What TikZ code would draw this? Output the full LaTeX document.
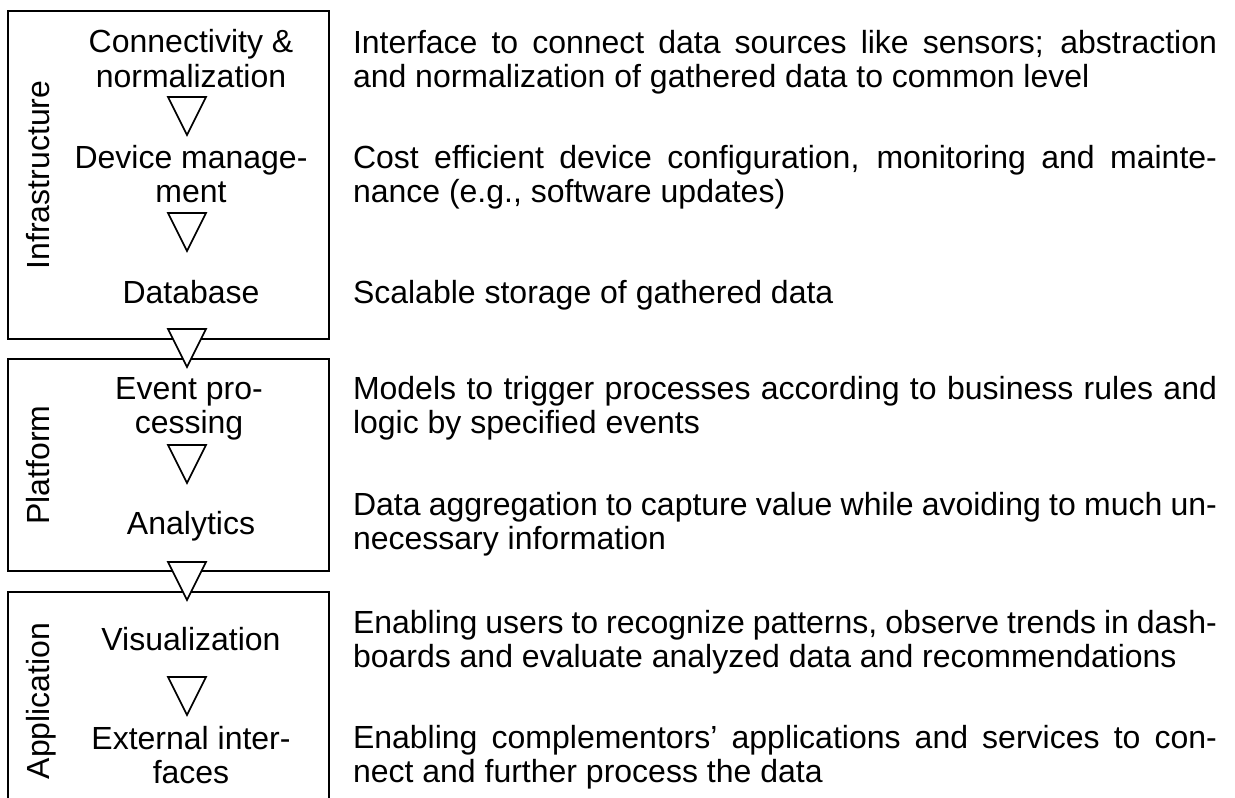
\documentclass[tikz,border=0pt]{standalone}
\usepackage{fontspec}
\setmainfont{Liberation Sans}
\begin{document}
\begin{tikzpicture}[x=1pt,y=-1pt,
  every node/.style={inner sep=0pt,outer sep=0pt,font=\fontsize{32}{34}\selectfont},
  boxline/.style={line width=2pt,line cap=butt,line join=miter},
  tri/.style={line width=1.6pt,fill=white,line join=miter},
  lbl/.style={anchor=base},
  side/.style={anchor=base,rotate=90},
  desc/.style={anchor=base west}]
\useasboundingbox (0,0) rectangle (1235,798);
\fill[white] (0,0) rectangle (1235,798);
% boxes
\draw[boxline] (8,11) rectangle (329,339);
\draw[boxline] (8,359) rectangle (329,571);
\draw[boxline] (8,798) -- (8,592) -- (329,592) -- (329,798);
% side labels
\node[side] (infra) at (49,175) {Infrastructure};
\node[side] (plat) at (49,465) {Platform};
\node[side] (appl) at (49,701) {Application};
% left labels
\node[lbl] (c1) at (191,52) {Connectivity \&};
\node[lbl] (c2) at (191,87) {normalization};
\node[lbl] (d1) at (191,168) {Device manage-};
\node[lbl] (d2) at (191,202) {ment};
\node[lbl] (db) at (191,303) {Database};
\node[lbl] (e1) at (189,399) {Event pro-};
\node[lbl] (e2) at (189,433) {cessing};
\node[lbl] (an) at (191,534) {Analytics};
\node[lbl] (vi) at (191,650) {Visualization};
\node[lbl] (x1) at (191,749) {External inter-};
\node[lbl] (x2) at (191,783) {faces};
% triangles
\foreach \t in {97,213,329,445,562,677}
  \draw[tri] (168,\t) -- (206,\t) -- (187,\t+38) -- cycle;
% descriptions
\node[desc] (r1a) at (353,53) {\makebox[864pt][s]{Interface to connect data sources like sensors; abstraction}};
\node[desc] (r1b) at (353,87) {and normalization of gathered data to common level};
\node[desc] (r2a) at (353,168) {\makebox[864pt][s]{Cost efficient device configuration, monitoring and mainte-}};
\node[desc] (r2b) at (353,202) {nance (e.g., software updates)};
\node[desc] (r3) at (353,303) {Scalable storage of gathered data};
\node[desc] (r4a) at (353,399) {\makebox[864pt][s]{Models to trigger processes according to business rules and}};
\node[desc] (r4b) at (353,433) {logic by specified events};
\node[desc] (r5a) at (353,515) {\makebox[864pt][s]{Data aggregation to capture value while avoiding to much un-}};
\node[desc] (r5b) at (353,549) {necessary information};
\node[desc] (r6a) at (353,633) {\makebox[864pt][s]{Enabling users to recognize patterns, observe trends in dash-}};
\node[desc] (r6b) at (353,667) {boards and evaluate analyzed data and recommendations};
\node[desc] (r7a) at (353,748) {\makebox[864pt][s]{Enabling complementors’ applications and services to con-}};
\node[desc] (r7b) at (353,782) {nect and further process the data};
\end{tikzpicture}
\end{document}
